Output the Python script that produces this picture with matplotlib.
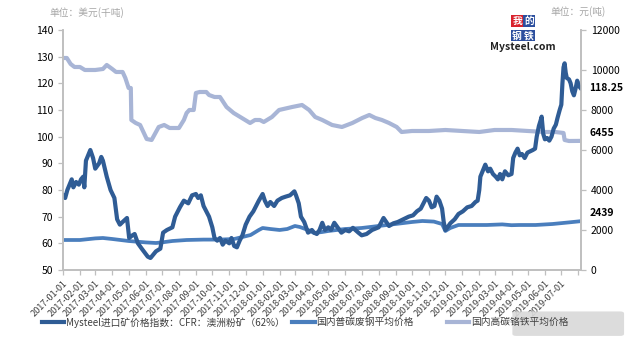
import numpy as np
import pandas as pd
import matplotlib
matplotlib.use("Agg")
import matplotlib.pyplot as plt
from matplotlib.lines import Line2D
from matplotlib.patches import FancyBboxPatch

plt.rcParams['font.family'] = ['Noto Sans CJK SC', 'DejaVu Sans']

# Mysteel import ore index, CFR Australian fines 62% (USD/t, left axis)
ore_dates = [
    '2017-01-01', '2017-01-05', '2017-01-09', '2017-01-13', '2017-01-17', '2017-01-20',
    '2017-01-25', '2017-01-30', '2017-02-03', '2017-02-07', '2017-02-09', '2017-02-12',
    '2017-02-16', '2017-02-20', '2017-02-25', '2017-03-01', '2017-03-08', '2017-03-12',
    '2017-03-15', '2017-03-22', '2017-03-29', '2017-04-05', '2017-04-10', '2017-04-15',
    '2017-04-20', '2017-04-28', '2017-05-02', '2017-05-08', '2017-05-12', '2017-05-18',
    '2017-05-25', '2017-06-05', '2017-06-10', '2017-06-20', '2017-06-28', '2017-07-03',
    '2017-07-10', '2017-07-20', '2017-07-25', '2017-08-03', '2017-08-10', '2017-08-18',
    '2017-08-25', '2017-09-01', '2017-09-05', '2017-09-10', '2017-09-15', '2017-09-25',
    '2017-10-01', '2017-10-05', '2017-10-10', '2017-10-15', '2017-10-20', '2017-10-25',
    '2017-11-01', '2017-11-05', '2017-11-10', '2017-11-15', '2017-11-20', '2017-11-25',
    '2017-12-01', '2017-12-08', '2017-12-15', '2017-12-25', '2018-01-01', '2018-01-05',
    '2018-01-10', '2018-01-15', '2018-01-22', '2018-01-28', '2018-02-05', '2018-02-12',
    '2018-02-20', '2018-02-28', '2018-03-03', '2018-03-08', '2018-03-12', '2018-03-18',
    '2018-03-25', '2018-04-01', '2018-04-05', '2018-04-10', '2018-04-15', '2018-04-20',
    '2018-04-25', '2018-05-01', '2018-05-06', '2018-05-12', '2018-05-18', '2018-05-25',
    '2018-06-01', '2018-06-08', '2018-06-15', '2018-06-25', '2018-07-01', '2018-07-10',
    '2018-07-20', '2018-08-01', '2018-08-10', '2018-08-15', '2018-08-20', '2018-08-28',
    '2018-09-05', '2018-09-15', '2018-09-25', '2018-10-03', '2018-10-10', '2018-10-17',
    '2018-10-22', '2018-10-27', '2018-11-01', '2018-11-06', '2018-11-11', '2018-11-15',
    '2018-11-20', '2018-11-25', '2018-11-28', '2018-12-01', '2018-12-05', '2018-12-10',
    '2018-12-18', '2018-12-25', '2019-01-02', '2019-01-10', '2019-01-18', '2019-01-25',
    '2019-01-29', '2019-02-01', '2019-02-03', '2019-02-07', '2019-02-12', '2019-02-17',
    '2019-02-21', '2019-02-26', '2019-03-03', '2019-03-07', '2019-03-11', '2019-03-15',
    '2019-03-20', '2019-03-26', '2019-04-01', '2019-04-04', '2019-04-08', '2019-04-12',
    '2019-04-16', '2019-04-20', '2019-04-25', '2019-04-30', '2019-05-05', '2019-05-10',
    '2019-05-14', '2019-05-17', '2019-05-21', '2019-05-24', '2019-05-26', '2019-05-29',
    '2019-06-01', '2019-06-05', '2019-06-09', '2019-06-13', '2019-06-17', '2019-06-21',
    '2019-06-24', '2019-06-28', '2019-07-01', '2019-07-03', '2019-07-05', '2019-07-07',
    '2019-07-09', '2019-07-11', '2019-07-15', '2019-07-18', '2019-07-21', '2019-07-24',
    '2019-07-27', '2019-07-30', '2019-08-02', '2019-08-05',
]
ore_values = [
    78, 77, 80, 82, 84, 81,
    83, 82, 84, 85, 81, 91,
    93, 95, 92, 88, 90, 92.4,
    91, 85, 80, 77, 69, 67,
    68, 69.5, 62, 63, 63.5, 60,
    58, 55, 54.5, 57, 58, 64,
    65, 66, 70, 73.6, 76, 75,
    78, 78.5, 77, 78, 74, 70,
    66, 62, 61, 62, 59.5, 61,
    60, 62, 59, 58.5, 61, 63,
    67, 70, 72, 76, 78.5, 76,
    74, 75.5, 74, 76, 77, 77.5,
    78, 79.5, 78, 75, 70, 68,
    64, 65, 64, 63.5, 65, 67.7,
    65, 66, 65, 67.7, 66, 64,
    65, 64.5, 65.8, 64, 63, 63.5,
    65, 66, 69.5, 68, 66.5, 67.5,
    68, 69, 70, 70.5, 72, 73,
    75, 77, 76, 73.5, 74, 77.5,
    76, 73, 68, 65, 66, 67.5,
    69, 71, 72, 73.5, 74, 75.5,
    76, 80, 85, 87, 89.5, 87,
    88, 86, 85, 84, 86, 84,
    87, 85.5, 86, 92, 94, 95.5,
    93, 93.5, 92, 94, 94.5, 95,
    95.5, 100, 104, 106, 107.5, 101,
    99, 99.5, 98.5, 100, 103, 104.5,
    107, 110, 112, 120, 126, 127.5,
    124, 122, 121.5, 120, 117, 115.5,
    118, 121, 119, 118.25,
]

# domestic ordinary scrap steel average price (CNY/t, right axis)
scrap_dates = [
    '2017-01-01', '2017-02-01', '2017-03-01', '2017-03-15', '2017-04-01', '2017-05-01',
    '2017-06-01', '2017-06-20', '2017-07-01', '2017-07-20', '2017-08-15', '2017-09-15',
    '2017-10-15', '2017-11-10', '2017-11-25', '2017-12-10', '2017-12-25', '2018-01-01',
    '2018-01-15', '2018-02-01', '2018-02-15', '2018-03-01', '2018-03-10', '2018-03-25',
    '2018-04-05', '2018-04-20', '2018-05-01', '2018-06-01', '2018-07-01', '2018-08-01',
    '2018-09-01', '2018-10-01', '2018-10-20', '2018-11-10', '2018-11-25', '2018-12-01',
    '2018-12-10', '2018-12-25', '2019-01-15', '2019-02-15', '2019-03-15', '2019-04-01',
    '2019-04-15', '2019-05-15', '2019-06-15', '2019-07-15', '2019-08-05',
]
scrap_values = [
    1500, 1500, 1580, 1600, 1550, 1450,
    1380, 1350, 1380, 1450, 1500, 1520,
    1520, 1550, 1650, 1750, 2000, 2100,
    2050, 2000, 2050, 2200, 2150, 2000,
    1850, 1900, 1950, 2050, 2100, 2200,
    2300, 2400, 2450, 2420, 2300, 1950,
    2100, 2250, 2250, 2250, 2280, 2240,
    2250, 2250, 2300, 2380, 2439,
]

# domestic high-carbon ferrochrome price (CNY/t, right axis)
chrome_dates = [
    '2017-01-01', '2017-01-08', '2017-01-15', '2017-01-22', '2017-02-01', '2017-02-10',
    '2017-03-01', '2017-03-15', '2017-03-22', '2017-04-01', '2017-04-08', '2017-04-20',
    '2017-04-25', '2017-05-01', '2017-05-05', '2017-05-06', '2017-05-14', '2017-05-22',
    '2017-05-28', '2017-06-03', '2017-06-12', '2017-06-18', '2017-06-25', '2017-07-05',
    '2017-07-15', '2017-08-01', '2017-08-10', '2017-08-15', '2017-08-20', '2017-08-28',
    '2017-09-01', '2017-09-08', '2017-09-20', '2017-09-25', '2017-10-05', '2017-10-15',
    '2017-10-27', '2017-11-09', '2017-11-24', '2017-12-09', '2017-12-18', '2017-12-27',
    '2018-01-03', '2018-01-18', '2018-01-31', '2018-02-24', '2018-03-14', '2018-03-27',
    '2018-04-07', '2018-04-20', '2018-05-08', '2018-05-26', '2018-06-14', '2018-07-02',
    '2018-07-15', '2018-07-26', '2018-08-07', '2018-08-20', '2018-09-03', '2018-09-12',
    '2018-10-01', '2018-11-01', '2018-12-01', '2019-01-01', '2019-02-01', '2019-03-01',
    '2019-04-01', '2019-05-01', '2019-06-01', '2019-06-20', '2019-07-05', '2019-07-07',
    '2019-07-15', '2019-08-05',
]
chrome_values = [
    10600, 10600, 10300, 10150, 10150, 10000,
    10000, 10050, 10250, 10050, 9900, 9900,
    9600, 9100, 9100, 7500, 7350, 7250,
    6900, 6550, 6500, 6800, 7150, 7250,
    7100, 7100, 7500, 7850, 8000, 8000,
    8850, 8900, 8900, 8750, 8650, 8650,
    8150, 7850, 7600, 7350, 7500, 7500,
    7400, 7650, 8000, 8150, 8250, 8000,
    7650, 7500, 7250, 7150, 7350, 7600,
    7750, 7600, 7500, 7350, 7150, 6900,
    6950, 6950, 7000, 6950, 6900, 7000,
    7000, 6950, 6900, 6900, 6850, 6500,
    6450, 6455,
]

series_labels = [
    'Mysteel进口矿价格指数：CFR：澳洲粉矿（62%）',
    '国内普碳废钢平均价格',
    '国内高碳铬铁平均价格',
]
c_ore = '#2F5C95'
c_scrap = '#4A7EBD'
c_chrome = '#A8B5D6'
axis_grey = '#BFBFBF'
text_dark = '#404040'

fig = plt.figure(figsize=(6.31, 3.40), dpi=100)
ax = fig.add_axes([0.0998, 0.2059, 0.8210, 0.7059])
ax2 = ax.twinx()

ax2.plot(pd.to_datetime(chrome_dates), chrome_values, color=c_chrome, lw=3.0,
         solid_joinstyle='round')
ax2.plot(pd.to_datetime(scrap_dates), scrap_values, color=c_scrap, lw=2.7,
         solid_joinstyle='round')
ax.plot(pd.to_datetime(ore_dates), ore_values, color=c_ore, lw=3.0,
        solid_joinstyle='round')
ax.set_zorder(ax2.get_zorder() + 1)
ax.patch.set_visible(False)

ax.set_ylim(50, 140)
ax.set_yticks(np.arange(50, 141, 10))
ax2.set_ylim(0, 12000)
ax2.set_yticks(np.arange(0, 12001, 2000))
ax.set_xlim(pd.Timestamp('2017-01-01'), pd.Timestamp('2019-08-06'))

month_ticks = pd.date_range('2017-01-01', '2019-08-01', freq='MS')
ax.set_xticks(month_ticks)
ax.set_xticklabels([d.strftime('%Y-%m-%d') if d <= pd.Timestamp('2019-07-01') else ''
                    for d in month_ticks],
                   rotation=45, ha='right', va='top', rotation_mode='anchor')

for a in (ax, ax2):
    a.spines['top'].set_visible(False)
    for side in ('left', 'right', 'bottom'):
        a.spines[side].set_color(axis_grey)
        a.spines[side].set_linewidth(1.2)
    a.tick_params(colors=axis_grey, labelcolor='black', labelsize=7.5, length=3.5, width=0.9)
ax.tick_params(axis='x', labelsize=6.6, labelcolor=text_dark, pad=3)

# latest values next to the right axis
ax.annotate(f'{ore_values[-1]:.2f}', xy=(1.0, ore_values[-1]),
            xycoords=('axes fraction', 'data'), xytext=(6, 0), textcoords='offset points',
            va='center', ha='left', fontsize=7.5, fontweight='bold')
for v in (chrome_values[-1], scrap_values[-1]):
    ax2.annotate(f'{v}', xy=(1.0, v), xycoords=('axes fraction', 'data'),
                 xytext=(6, 6), textcoords='offset points',
                 va='center', ha='left', fontsize=7.5, fontweight='bold')

# unit captions
fig.text(0.079, 0.962, '单位：美元(千吨)', fontsize=7, color='#A6A6A6', ha='left', va='center')
fig.text(0.873, 0.965, '单位：元(吨)', fontsize=7, color='#A6A6A6', ha='left', va='center')

# site logo
logo_chars = [('我', '#D9232D', 0.8195, 0.938), ('的', '#2C4F9E', 0.8385, 0.938),
              ('钢', '#2C4F9E', 0.8195, 0.895), ('铁', '#2C4F9E', 0.8385, 0.895)]
for ch, bg, lx, ly in logo_chars:
    fig.text(lx, ly, ch, fontsize=7, color='white', ha='center', va='center',
             fontweight='bold',
             bbox=dict(boxstyle='square,pad=0.08', fc=bg, ec='none'))
fig.text(0.829, 0.862, 'Mysteel.com', fontsize=7.5, color='#222222', ha='center',
         va='center', fontweight='bold')

# legend, one entry per series
handles = [Line2D([], [], color=c_ore, lw=3.0),
           Line2D([], [], color=c_scrap, lw=3.0),
           Line2D([], [], color=c_chrome, lw=3.0)]
legend_x = [0.066, 0.463, 0.708]
for h, lab, lx in zip(handles, series_labels, legend_x):
    fig.legend([h], [lab], loc='center left', bbox_to_anchor=(lx, 0.052),
               frameon=False, fontsize=7, handlelength=2.3, handletextpad=0.2,
               borderaxespad=0, borderpad=0, labelcolor=text_dark)

cover = FancyBboxPatch((0.818, 0.018), 0.165, 0.06, boxstyle='round,pad=0.006',
                       transform=fig.transFigure, fc='#D9D9D9', ec='none', alpha=0.9)
fig.patches.append(cover)

fig.savefig('out.png', dpi=100)
